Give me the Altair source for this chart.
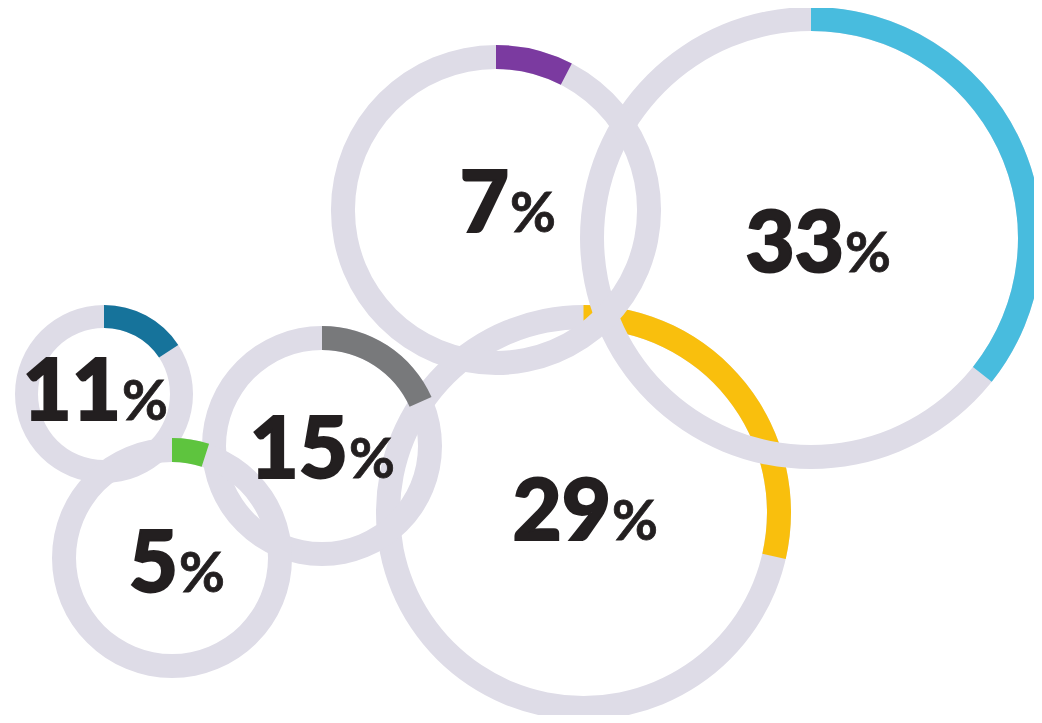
import math
import altair as alt
import pandas as pd

# ---- values ----
categories = ["29", "33", "7", "15", "11", "5"]          # drawing order (back to front)
label_values = [29, 33, 7, 15, 11, 5]                     # numbers printed in the rings (%)
arc_share = [28.6, 35.7, 7.6, 18.3, 15.7, 5.0]            # share of each ring actually coloured (%)

# ---- layout of the rings (same units as the picture) ----
center_x = [583.5, 811, 496, 322, 104, 172]
center_y = [512.5, 238, 210, 446, 394, 558]
outer_r = [207.5, 231, 165, 120, 89, 120]
ring_w = [24, 24, 24, 24, 23, 24]
label_x = [611, 844, 509, 348, 121, 178]   # split between number and "%"
label_y = [540, 272, 232, 478, 420, 592]   # text baseline

colors = ["#F9BF0D", "#48BCDE", "#7B3AA0", "#78797B", "#16739B", "#5EC43E"]
track_color = "#DEDCE7"

rows = []
z = 0
for i, c in enumerate(categories):
    for part, t1 in (("track", 100.0), (c, arc_share[i])):
        rows.append(dict(part=part, cx=center_x[i], cy=center_y[i],
                         r_out=outer_r[i], r_in=outer_r[i] - ring_w[i],
                         t0=0.0, t1=t1, z=z))
        z += 1
rings = pd.DataFrame(rows)

labels = pd.DataFrame(dict(num=[str(v) for v in label_values], pct=["%"] * len(label_values),
                           lx=label_x, ly=label_y))

W, H = 1026, 707
xs = alt.Scale(domain=[8, 8 + W], range=[0, W], nice=False, zero=False)
ys = alt.Scale(domain=[8, 8 + H], range=[0, H], nice=False, zero=False)

ring_layer = alt.Chart(rings).mark_arc().encode(
    x=alt.X("cx:Q", scale=xs, axis=None),
    y=alt.Y("cy:Q", scale=ys, axis=None),
    theta=alt.Theta("t0:Q", stack=None,
                    scale=alt.Scale(domain=[0, 100], range=[0, 2 * math.pi])),
    theta2="t1:Q",
    radius=alt.Radius("r_out:Q", scale=alt.Scale(type="linear", domain=[0, 300], range=[0, 300])),
    radius2="r_in:Q",
    color=alt.Color("part:N", legend=None,
                    scale=alt.Scale(domain=["track"] + categories, range=[track_color] + colors)),
    order=alt.Order("z:Q"),
)

num_layer = alt.Chart(labels).mark_text(
    align="right", baseline="alphabetic", font="Lato", fontWeight=900,
    fontSize=85, color="#231F20", stroke="#231F20", strokeWidth=2
).encode(
    x=alt.X("lx:Q", scale=xs, axis=None),
    y=alt.Y("ly:Q", scale=ys, axis=None),
    text="num:N",
)

pct_layer = alt.Chart(labels).mark_text(
    align="left", baseline="alphabetic", font="Lato", fontWeight="bold",
    fontSize=56, color="#231F20", stroke="#231F20", strokeWidth=0.8, dx=1
).encode(
    x=alt.X("lx:Q", scale=xs, axis=None),
    y=alt.Y("ly:Q", scale=ys, axis=None),
    text="pct:N",
)

chart = alt.layer(ring_layer, num_layer, pct_layer).properties(
    width=W, height=H, padding=0, autosize="none", background="white"
).configure_view(stroke=None)

chart.save("out.html", embed_options={"renderer": "svg", "actions": False})
